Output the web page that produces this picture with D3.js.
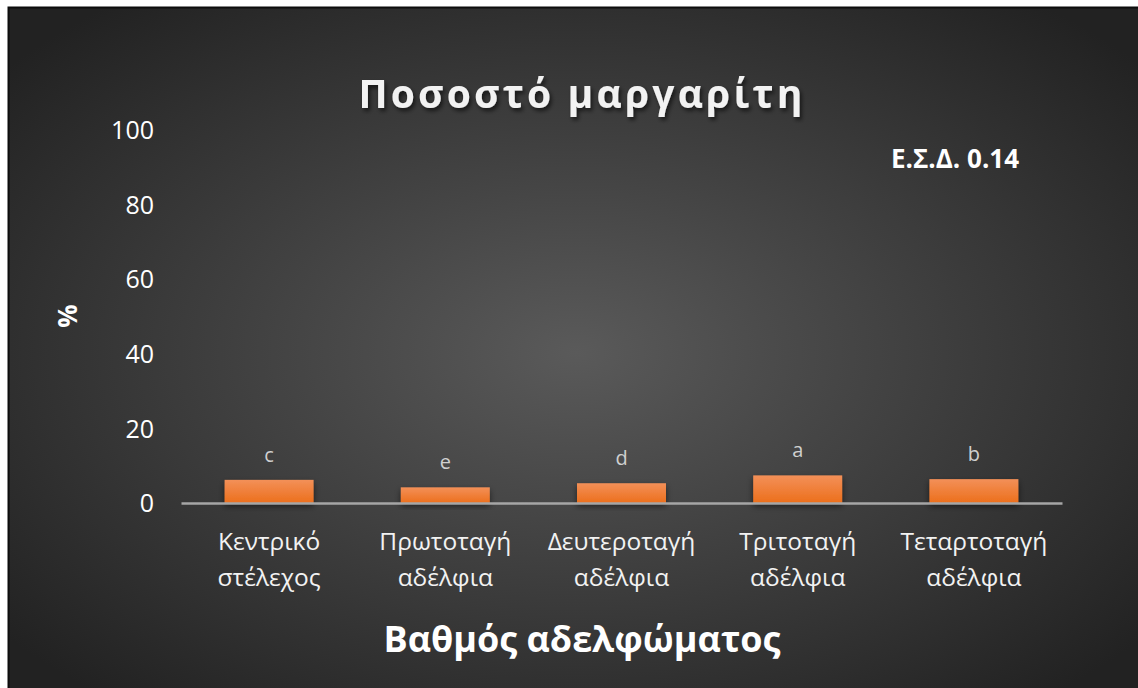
<!DOCTYPE html>
<html>
<head>
<meta charset="utf-8">
<script src="https://cdn.jsdelivr.net/npm/d3@7"></script>
<style>
  html, body { margin: 0; padding: 0; background: #ffffff; }
  svg { display: block; }
</style>
</head>
<body>
<svg id="chart" width="1138" height="688"></svg>
<script>
// Share of "μαργαρίτη" by sibling order
const categories = [
  ["Κεντρικό", "στέλεχος"],
  ["Πρωτοταγή", "αδέλφια"],
  ["Δευτεροταγή", "αδέλφια"],
  ["Τριτοταγή", "αδέλφια"],
  ["Τεταρτοταγή", "αδέλφια"]
];
const values = [6.2, 4.2, 5.3, 7.4, 6.4];
const groupLetters = ["c", "e", "d", "a", "b"];
const yTicks = [0, 20, 40, 60, 80, 100];

const FONT = "'Open Sans', 'Noto Sans', sans-serif";
const svg = d3.select("#chart");
const defs = svg.append("defs");

// Chart-area background: soft radial glow
const bg = defs.append("radialGradient").attr("id", "bgGrad")
  .attr("cx", "50%").attr("cy", "50%").attr("r", "65%");
bg.append("stop").attr("offset", "0%").attr("stop-color", "#5a5a5a");
bg.append("stop").attr("offset", "100%").attr("stop-color", "#222222");

const barGrad = defs.append("linearGradient").attr("id", "barGrad")
  .attr("x1", 0).attr("y1", 0).attr("x2", 0).attr("y2", 1);
barGrad.append("stop").attr("offset", "0%").attr("stop-color", "#f39058");
barGrad.append("stop").attr("offset", "100%").attr("stop-color", "#ec6f1c");

const shadow = defs.append("filter").attr("id", "barShadow")
  .attr("x", "-20%").attr("y", "-20%").attr("width", "140%").attr("height", "160%");
shadow.append("feDropShadow").attr("dx", 0).attr("dy", 3).attr("stdDeviation", 3)
  .attr("flood-color", "#000").attr("flood-opacity", 0.55);

const textShadow = defs.append("filter").attr("id", "textShadow")
  .attr("x", "-10%").attr("y", "-30%").attr("width", "120%").attr("height", "160%");
textShadow.append("feDropShadow").attr("dx", 2).attr("dy", 3).attr("stdDeviation", 2)
  .attr("flood-color", "#000").attr("flood-opacity", 0.6);

svg.append("rect")
  .attr("x", 8.5).attr("y", 7.5).attr("width", 1135).attr("height", 690)
  .attr("fill", "url(#bgGrad)").attr("stroke", "#0d0d0d").attr("stroke-width", 2);

const margin = { left: 181, right: 1062, top: 130, bottom: 503 };

const x = d3.scaleBand()
  .domain(d3.range(categories.length))
  .range([margin.left, margin.right])
  .paddingInner(0.495).paddingOuter(0.2475);

const y = d3.scaleLinear().domain([0, 100]).range([margin.bottom, margin.top]);

// Y axis labels (no line, no ticks)
const yAxis = d3.axisLeft(y).tickValues(yTicks).tickSize(0).tickPadding(0);
const yg = svg.append("g").attr("transform", "translate(154,0)").call(yAxis);
yg.select(".domain").remove();
yg.selectAll("text")
  .attr("fill", "#ffffff").attr("font-family", FONT).attr("font-size", 25)
  .attr("dy", "0.35em");

// Bars
svg.append("g").selectAll("rect")
  .data(values)
  .join("rect")
  .attr("x", (d, i) => x(i))
  .attr("width", x.bandwidth())
  .attr("y", d => y(d))
  .attr("height", d => y(0) - y(d))
  .attr("fill", "url(#barGrad)")
  .attr("filter", "url(#barShadow)");

// X axis line
const xAxis = d3.axisBottom(x).tickSize(0).tickFormat("");
const xg = svg.append("g").attr("transform", `translate(0,${y(0)})`).call(xAxis);
xg.select(".domain").attr("stroke", "#a6a6a6").attr("stroke-width", 2.5);

// Significance letters above bars
svg.append("g").selectAll("text")
  .data(values)
  .join("text")
  .attr("x", (d, i) => x(i) + x.bandwidth() / 2)
  .attr("y", d => y(d) - 18)
  .attr("text-anchor", "middle")
  .attr("fill", "#d0d0d0").attr("font-family", FONT).attr("font-size", 20)
  .text((d, i) => groupLetters[i]);

// Category labels (two lines)
const catG = svg.append("g").selectAll("text")
  .data(categories)
  .join("text")
  .attr("text-anchor", "middle")
  .attr("fill", "#f2f2f2").attr("font-family", FONT).attr("font-size", 24.5);
catG.each(function (lines, i) {
  const t = d3.select(this);
  lines.forEach((ln, k) => {
    t.append("tspan")
      .attr("x", x(i) + x.bandwidth() / 2)
      .attr("y", 550 + k * 36)
      .text(ln);
  });
});

// Title
svg.append("text")
  .attr("x", 582).attr("y", 108)
  .attr("text-anchor", "middle")
  .attr("fill", "#f2f2f2").attr("font-family", FONT).attr("font-weight", "bold")
  .attr("font-size", 39).attr("letter-spacing", 3.2)
  .attr("filter", "url(#textShadow)")
  .text("Ποσοστό μαργαρίτη");

// Annotation
svg.append("text")
  .attr("x", 955).attr("y", 168)
  .attr("text-anchor", "middle")
  .attr("fill", "#ffffff").attr("font-family", FONT).attr("font-weight", "bold")
  .attr("font-size", 26)
  .text("Ε.Σ.Δ. 0.14");

// Axis titles
svg.append("text")
  .attr("x", 582).attr("y", 652)
  .attr("text-anchor", "middle")
  .attr("fill", "#ffffff").attr("font-family", FONT).attr("font-weight", "bold")
  .attr("font-size", 36)
  .text("Βαθμός αδελφώματος");

svg.append("text")
  .attr("transform", "translate(77,316) rotate(-90)")
  .attr("text-anchor", "middle")
  .attr("fill", "#ffffff").attr("font-family", FONT).attr("font-weight", "bold")
  .attr("font-size", 26)
  .text("%");
</script>
</body>
</html>
